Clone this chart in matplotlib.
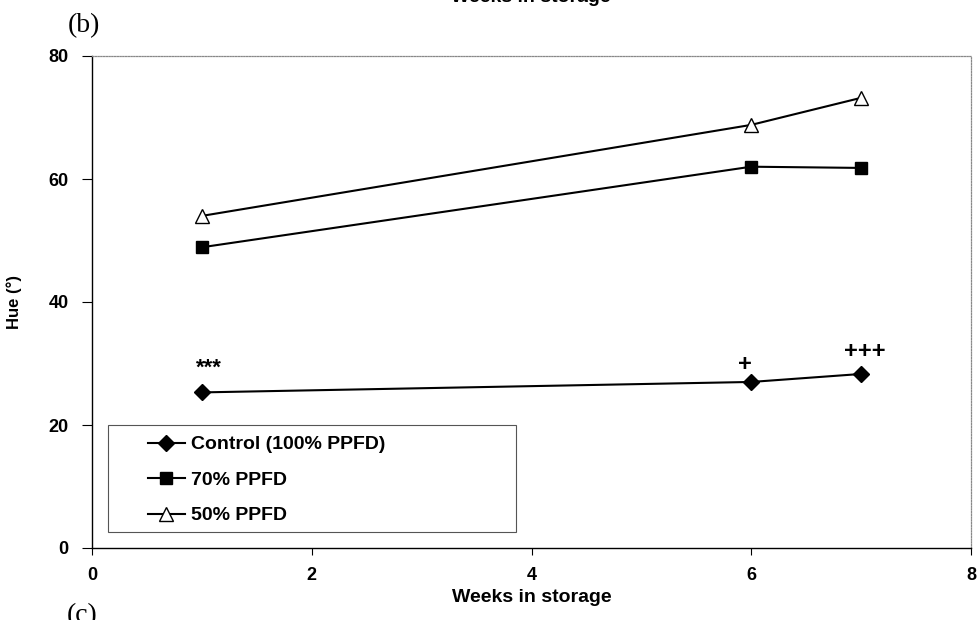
"""
Hue of leaves over weeks in storage, panel (b)
"""
import matplotlib
matplotlib.use("Agg")
import matplotlib.pyplot as plt
from matplotlib.patches import Rectangle

plt.rcParams['font.family'] = ['Liberation Sans', 'DejaVu Sans']

# data
weeks = [1, 6, 7]
control = [25.3, 27.0, 28.3]
ppfd70 = [48.9, 62.0, 61.8]
ppfd50 = [54.0, 68.8, 73.2]

labels = ["Control (100% PPFD)", "70% PPFD", "50% PPFD"]
signif = ["***", "+", "+++"]
signif_pos = [(1.06, 29.3), (5.94, 29.8), (7.03, 31.9)]

fig = plt.figure(figsize=(9.77, 6.2), dpi=100)
ax = fig.add_axes([92 / 977, 1 - 548 / 620, (971 - 92) / 977, (548 - 56) / 620])

ax.plot(weeks, control, color='black', lw=1.5, marker='D', ms=8,
        mfc='black', mec='black', label=labels[0])
ax.plot(weeks, ppfd70, color='black', lw=1.5, marker='s', ms=9,
        mfc='black', mec='black', label=labels[1])
ax.plot(weeks, ppfd50, color='black', lw=1.5, marker='^', ms=10,
        mfc='white', mec='black', mew=1.0, label=labels[2])

# significance marks above the control line
for (x, y), s in zip(signif_pos, signif):
    ax.text(x, y, s, ha='center', va='center',
            fontsize=17 if '+' in s else 16, fontweight='bold')

ax.set_xlim(0, 8)
ax.set_ylim(0, 80)
ax.set_xticks([0, 2, 4, 6, 8])
ax.set_yticks([0, 20, 40, 60, 80])
ax.tick_params(axis='y', direction='out', length=7, width=0.8, labelsize=13, pad=10)
ax.tick_params(axis='x', direction='out', length=5, width=0.8, labelsize=13, pad=9)
for lab in ax.get_xticklabels() + ax.get_yticklabels():
    lab.set_fontweight('bold')

ax.spines['left'].set_linewidth(1.0)
ax.spines['bottom'].set_linewidth(1.0)
for side in ('top', 'right'):
    ax.spines[side].set_linestyle((0, (1, 1.2)))
    ax.spines[side].set_color('#888888')
    ax.spines[side].set_linewidth(0.9)

ax.set_ylabel("Hue (°)", fontsize=12, fontweight='bold')
ax.yaxis.set_label_coords(-70 / 879, 0.5)
ax.set_xlabel("Weeks in storage", fontsize=14, fontweight='bold', labelpad=3)

# legend box drawn by hand to match the wide, tracked text of the original
frame = Rectangle(((108 - 92) / 879, (548 - 532) / 492), (516 - 108) / 879, (532 - 425) / 492,
                  transform=ax.transAxes, fill=True, facecolor='white',
                  edgecolor='#555555', lw=0.8, zorder=4)
ax.add_patch(frame)
leg = ax.legend(loc='upper left', bbox_to_anchor=(50 / 879, (548 - 430) / 492),
                frameon=False, prop={'weight': 'bold', 'size': 14},
                handlelength=1.9, handletextpad=0.3, borderpad=0.3, labelspacing=0.92,
                borderaxespad=0)
leg.set_zorder(5)

# panel letters and the cut-off neighbouring title
fig.text(68 / 977, 1 - 26 / 620, "(b)", family='Liberation Serif', fontsize=20, ha='left', va='center')
fig.text(67 / 977, 1 - 616 / 620, "(c)", family='Liberation Serif', fontsize=20, ha='left', va='center')
fig.text(531 / 977, 1.004, "Weeks in storage", fontsize=14, fontweight='bold', ha='center', va='center')

fig.savefig('out.png', dpi=100)
